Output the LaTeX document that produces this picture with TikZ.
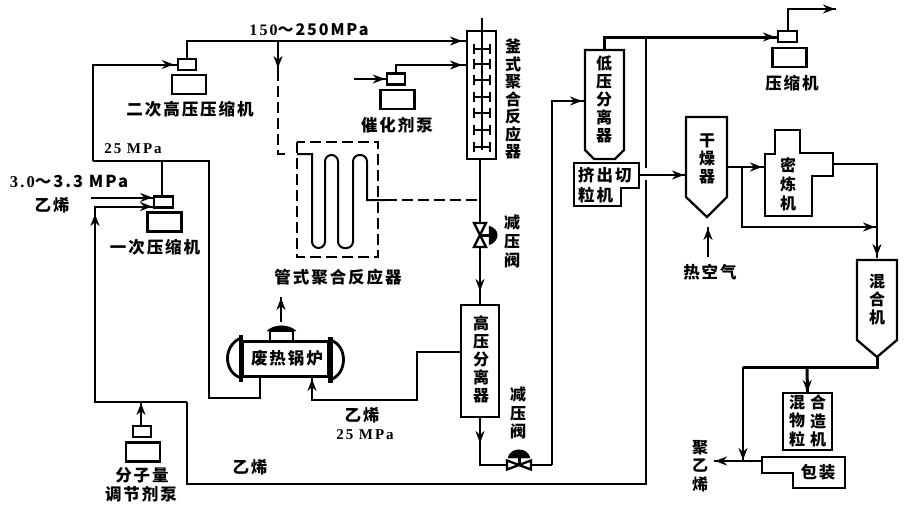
\documentclass[tikz,border=0pt]{standalone}
\usepackage{fontspec}
\setmainfont{Liberation Serif}[LetterSpace=13]
\newfontfamily\hz[LetterSpace=12]{Noto Sans CJK SC}
\usetikzlibrary{arrows.meta,decorations.markings}
\begin{document}
\begin{tikzpicture}[
    x=1pt, y=-1pt,
    unit/.style={draw, line width=2.3pt},
    unitbox/.style={unit, rectangle, inner sep=0pt, outer sep=0pt, align=center},
    pumphead/.style={unitbox, minimum width=18.5pt, minimum height=11pt},
    pumpbase/.style={unitbox, minimum width=34pt, minimum height=19pt},
    pipe/.style={line width=2pt},
    mainpipe/.style={line width=3pt},
    dashpipe/.style={line width=2pt, dash pattern=on 11pt off 5pt},
    flow/.style={postaction={decorate, decoration={markings, mark=at position #1 with {\arrow{Stealth[length=12pt, width=9pt]}}}}},
    label/.style={font=\hz\bfseries\fontsize{16.5}{18}\selectfont, inner sep=0pt},
    vlabel/.style={align=center, inner sep=0pt, font=\hz\bfseries\fontsize{16}{#1}\selectfont},
    value/.style={font=\bfseries\fontsize{#1}{17}\selectfont, inner sep=0pt}
]
\useasboundingbox (0,0) rectangle (906,515);
% Compressors and pumps
\node[pumphead] (hyperhead) at (187,64.5) {};
\node[pumpbase] (hyperbase) at (189,84.5) {};
\node[label] (hyperlabel) at (190,109) {二次高压压缩机};
\node[pumphead] (feedhead) at (163.5,202) {};
\node[pumpbase] (feedbase) at (164.5,222) {};
\node[label] (feedlabel) at (155,247) {一次压缩机};
\node[pumphead] (cathead) at (396,79) {};
\node[pumpbase] (catbase) at (397.5,99.5) {};
\node[label] (catlabel) at (397,125) {催化剂泵};
\node[pumphead] (modhead) at (142,431.5) {};
\node[pumpbase] (modbase) at (143,452) {};
\node[label] (modlabel) at (142,475) {分子量};
\node[label] (modlabel2) at (141,494) {调节剂泵};
\node[pumphead] (lowhead) at (787.5,36.5) {};
\node[pumpbase] (lowbase) at (789.5,57.5) {};
\node[label] (lowlabel) at (792,83) {压缩机};
% Autoclave reactor
\node[unitbox, minimum width=29pt, minimum height=128pt] (autoclave) at (481.5,95) {};
\coordinate (shafttop) at (482,18);
\coordinate (shaftend) at (482,150);
\draw[pipe] (shafttop) -- (shaftend);
\foreach \y in {49,64,80,97,113,130,147}
  \draw[pipe, {Bar[width=10pt]}-{Bar[width=10pt]}] (473,\y) -- (491,\y);
\node[vlabel=17.5] (autolabel) at (513,99) {釜\\式\\聚\\合\\反\\应\\器};
% Tubular reactor
\draw[dashpipe] (297,142) rectangle (378,257);
\node[label] (tubelabel) at (338,277) {管式聚合反应器};
\coordinate (coilin) at (297,154);
\coordinate (coilout) at (386,200);
\draw[pipe] (coilin) -- (312,154) [rounded corners=6.5pt] -- (312,248) -- (325,248) -- (325,155) -- (338,155) -- (338,248) -- (353,248) -- (353,155) -- (367,155) [sharp corners] -- (367,200) -- (coilout);
\coordinate (tubefork) at (278,41);
\coordinate (tubedash) at (278,70);
\coordinate (tubeend) at (289,154);
\coordinate (autofeed) at (466,41);
\coordinate (catfeed) at (466,65);
\coordinate (autodrop) at (480,200);
\draw[pipe, flow=-4pt] (hyperhead.north) |- (autofeed);
\draw[pipe, flow=-2pt] (tubefork) -- (tubedash);
\draw[dashpipe] (tubedash) |- (tubeend);
\draw[dashpipe] (coilout) -- (autodrop);
\draw[pipe, flow=-4pt] (cathead.north) |- (catfeed);
\coordinate (catin) at (354,79);
\draw[pipe, flow=-2pt] (catin) -- (cathead.west);
% High pressure separator
\node[unitbox, minimum width=38pt, minimum height=112pt] (highsep) at (480,361) {};
\node[vlabel=18] (highlabel) at (481,359) {高\\压\\分\\离\\器};
\coordinate (autoout) at (480,160);
\draw[pipe, flow=-14pt] (autoout) -- (highsep.north);
\draw[unit, fill=white] (474,223) -- (486,223) -- (480,235) -- cycle;
\draw[unit, fill=white] (474,247) -- (486,247) -- (480,235) -- cycle;
\draw[mainpipe] (480,235) -- (490,235);
\draw[fill=black] (489,226) .. controls (500,229) and (500,241) .. (489,245) -- cycle;
\node[vlabel=19] (valvelabel) at (512,241) {减\\压\\阀};
% Ethylene recycle from high pressure separator
\coordinate (boilerin) at (312,378);
\coordinate (highwest) at (460,352);
\draw[pipe, flow=-1pt] (highwest) -- (417,352) -- (417,399.5) -- (312,399.5) -- (boilerin);
\node[label] (eth25) at (362,415) {乙烯};
\node[value=15] (eth25val) at (365,435) {25 MPa};
% Waste heat boiler
\node[unitbox, minimum width=85pt, minimum height=35pt] (boiler) at (285.5,359) {};
\node[label] (boilerlabel) at (287,358) {废热锅炉};
\draw[line width=3.5pt] (241,335) -- (241,382);
\draw[line width=5pt] (330,337) -- (330,383);
\draw[line width=2.8pt] (241,338) .. controls (223,345) and (223,372) .. (241,378);
\draw[line width=2.8pt] (330,340) .. controls (348,345) and (348,374) .. (330,380);
\draw[unit] (270,341) -- (270,331) -- (293,331) -- (293,341);
\draw[fill=black] (267,331) .. controls (274,324) and (289,324) .. (296,331) -- cycle;
\coordinate (steamtip) at (281,297);
\coordinate (steamfoot) at (281,322);
\draw[pipe, line width=2.4pt, flow=-1pt] (steamfoot) -- (steamtip);
\coordinate (boilerout) at (260,377);
% 25 MPa header
\coordinate (headerleft) at (92.5,161);
\coordinate (headerright) at (209,161);
\coordinate (headertap) at (162,161);
\node[value=15] (head25) at (133,149) {25 MPa};
\draw[pipe, flow=-4pt] (headerleft) |- (hyperhead.west);
\draw[pipe] (headerleft) -- (headerright) |- (209,398) -| (boilerout);
\draw[pipe] (feedhead.north -| headertap) -- (headertap);
\node[value=16.5] (feedval) at (69,181) {3.0\hz{～}3.3 MPa};
\node[label] (feedeth) at (52,205) {乙烯};
\coordinate (feedin) at (91,197.5);
\draw[pipe, flow=-2pt] (feedin) -- (feedhead.west |- feedin);
% Ethylene return loop
\coordinate (returnin) at (154,206.5);
\coordinate (looptop) at (646,37);
\coordinate (loopcut) at (646,168);
\coordinate (looprise) at (646,180);
\coordinate (loopjoin) at (187,402);
\coordinate (looptee) at (141,402);
\draw[pipe] (looptop) -- (loopcut);
\draw[pipe] (looprise) -- (646,484) -- (187,484) -- (loopjoin);
\draw[pipe, flow=-2pt] (loopjoin) -- (95,402) -- (95,206.5) -- (returnin);
\draw[pipe, flow=-2pt] (95,232) -- (95,212);
\draw[pipe, flow=-1pt] (modhead.north -| looptee) -- (looptee);
\node[label] (loopeth) at (250,467) {乙烯};
\node[value=16] (toppress) at (309,30) {150\hz{～}250MPa};
% Low pressure separator
\draw[unit] (585,50) -- (624,50) -- (624,150) -- (615,159) -- (594,159) -- (585,150) -- cycle;
\node[vlabel=18] (lowsep) at (604,99) {低\\压\\分\\离\\器};
\coordinate (lowseptop) at (604,50);
\coordinate (lowsepin) at (585,101);
\coordinate (lowgas) at (778,37);
\draw[mainpipe, flow=-3pt] (lowseptop) |- (lowgas);
\coordinate (gasout) at (836,9);
\draw[pipe, flow=-1pt] (lowhead.north) |- (gasout);
% Let-down to low pressure separator
\coordinate (valvein) at (480,465);
\coordinate (valveout) at (552,465);
\coordinate (valvemid) at (519,465);
\draw[pipe, flow=26pt] (highsep.south) -- (valvein) -- (valveout);
\draw[pipe, flow=-3pt] (valveout) |- (lowsepin);
\draw[unit, fill=white] (519,465) -- (507,460.5) -- (507,469.5) -- cycle;
\draw[unit, fill=white] (519,465) -- (531,460.5) -- (531,469.5) -- cycle;
\draw[mainpipe] (519,465) -- (519,456);
\draw[fill=black] (508,458) .. controls (510,447) and (528,447) .. (530,458) -- cycle;
\node[vlabel=18.5] (valvelabel2) at (518,413) {减\\压\\阀};
% Extruder and dryer
\draw[unit] (574,163) -- (639,163) -- (639,188) -- (621,188) -- (621,206) -- (574,206) -- cycle;
\node[label, anchor=west] (extruder) at (578,175) {挤出切};
\node[label, anchor=west] (extruder2) at (578,195) {粒机};
\coordinate (extout) at (639,175);
\coordinate (dryerin) at (686,175);
\draw[pipe, flow=-2pt] (extout) -- (dryerin);
\draw[unit] (686,117) -- (727,117) -- (727,197) -- (707,217) -- (686,197) -- cycle;
\node[vlabel=18] (dryer) at (707,159) {干\\燥\\器};
\coordinate (airfoot) at (708,257);
\coordinate (airtip) at (708,227);
\draw[pipe, flow=-1pt] (airfoot) -- (airtip);
\node[label] (airlabel) at (710,272) {热空气};
% Internal mixer
\draw[unit] (765,154) -- (775,154) -- (775,130) -- (800,130) -- (800,153) -- (833,153) -- (833,176) -- (812,176) -- (812,216) -- (765,216) -- cycle;
\node[vlabel=19] (kneader) at (788,184) {密\\炼\\机};
\coordinate (dryerout) at (727,167);
\coordinate (kneadin) at (765,167);
\coordinate (kneadbranch) at (742,167);
\coordinate (kneadout) at (833,164);
\coordinate (mixtee) at (877,227);
\coordinate (mixin) at (877,258);
\draw[pipe, flow=-3pt] (dryerout) -- (kneadin);
\draw[pipe, flow=-2pt] (kneadbranch) |- (mixtee);
\draw[pipe, flow=-2pt] (kneadout) -| (mixin);
% Mixer and pelletizer
\draw[unit] (857,260) -- (897,260) -- (897,340) -- (877,357) -- (857,340) -- cycle;
\node[vlabel=18] (mixer) at (877,300) {混\\合\\机};
\node[unitbox, minimum width=49pt, minimum height=57pt] (pelletizer) at (807.5,421.5) {};
\node[vlabel=18.5] (pelletl) at (797,421) {混\\物\\粒};
\node[vlabel=18.5] (pelletr) at (818,421) {合\\造\\机};
\coordinate (mixout) at (877,357);
\coordinate (mixdrop) at (743,367);
\coordinate (pelletfork) at (807,367);
\coordinate (bagtee) at (743,461);
\coordinate (bagbox) at (762,461);
\coordinate (pe) at (714,461);
\draw[mainpipe] (mixout) |- (mixdrop);
\draw[mainpipe, flow=-1pt] (pelletfork) -- (pelletizer.north);
\draw[pipe, line width=2.4pt, flow=-1pt] (mixdrop) -- (bagtee);
\draw[pipe, line width=2.4pt, flow=-1pt] (bagbox) -- (pe);
\draw[unit] (762,457) -- (845,457) -- (845,488) -- (793,488) -- (793,473) -- (762,473) -- cycle;
\node[label] (baglabel) at (818,472) {包装};
\node[vlabel=18.5] (pelabel) at (700,466) {聚\\乙\\烯};
\end{tikzpicture}
\end{document}
